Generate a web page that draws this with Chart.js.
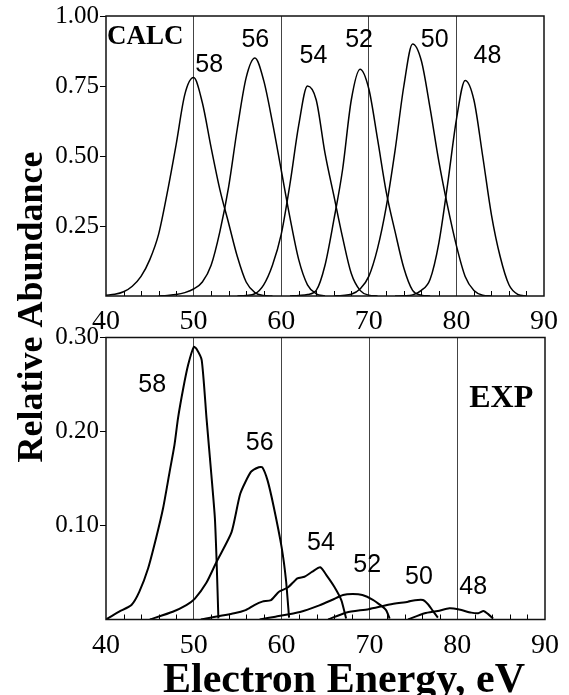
<!DOCTYPE html>
<html><head><meta charset="utf-8">
<script src="https://cdn.jsdelivr.net/npm/chart.js"></script>
<style>
html,body{margin:0;padding:0;background:#fff;}
#wrap{position:relative;width:569px;height:695px;overflow:hidden;}
canvas{position:absolute;left:0;top:0;}
</style></head><body>
<div id="wrap">
<canvas id="topChart" width="569" height="695"></canvas>
<canvas id="botChart" width="569" height="695"></canvas>
</div>
<script>
// ---------- DATA ----------
// CALC panel: energies (eV) and relative abundance for each cluster size
const calcEnergy = [40,41,42,43,44,45,46,47,48,49,50,51,52,53,54,55,56,57,58,59,60,61,62,63,64,65,66,67,68,69,70,71,72,73,74,75,76,77,78,79,80,81,82,83,84,85,86,87,88];
const calc58 = [0.003,0.006,0.015,0.035,0.07,0.13,0.22,0.37,0.54,0.72,0.78,0.69,0.53,0.38,0.26,0.14,0.05,0.012,0.002,0,
  null,null,null,null,null,null,null,null,null,null,null,null,null,null,null,null,null,null,null,null,null,null,null,null,null,null,null,null,null];
const calc56 = [null,null,null,null,null,null,
  0,0.002,0.005,0.012,0.025,0.05,0.11,0.23,0.39,0.60,0.78,0.85,0.77,0.62,0.45,0.28,0.13,0.04,0.008,0,
  null,null,null,null,null,null,null,null,null,null,null,null,null,null,null,null,null,null,null,null,null,null,null];
const calc54 = [null,null,null,null,null,null,null,null,null,null,null,null,null,null,null,
  0,0.002,0.008,0.04,0.11,0.22,0.40,0.61,0.75,0.70,0.51,0.36,0.21,0.08,0.02,0.003,0,
  null,null,null,null,null,null,null,null,null,null,null,null,null,null,null,null,null];
const calc52 = [null,null,null,null,null,null,null,null,null,null,null,null,null,null,null,null,null,null,null,null,null,
  0,0.002,0.005,0.02,0.11,0.27,0.45,0.70,0.81,0.74,0.56,0.37,0.23,0.10,0.02,0.003,0,
  null,null,null,null,null,null,null,null,null,null,null];
const calc50 = [null,null,null,null,null,null,null,null,null,null,null,null,null,null,null,null,null,null,null,null,null,null,null,null,null,null,
  0,0.002,0.006,0.025,0.07,0.17,0.32,0.52,0.75,0.90,0.84,0.67,0.48,0.32,0.18,0.07,0.02,0.003,0,
  null,null,null,null];
const calc48 = [null,null,null,null,null,null,null,null,null,null,null,null,null,null,null,null,null,null,null,null,null,null,null,null,null,null,null,null,null,null,null,null,null,
  0,0.001,0.004,0.02,0.06,0.19,0.40,0.63,0.77,0.70,0.50,0.29,0.14,0.04,0.006,0];

// EXP panel: measured curves (energy, abundance)
const exp58E = [40.0,40.2,41.5,42.9,43.8,44.8,45.7,46.5,47.25,47.8,48.2,48.8,49.35,50.0,50.3,50.9,51.45,52.0,52.4,52.6,52.8];
const exp58Y = [0.000,0.0012,0.0083,0.0154,0.0296,0.0545,0.0864,0.1183,0.1573,0.1857,0.214,0.246,0.2707,0.290,0.288,0.276,0.214,0.154,0.108,0.0615,0.0012];
const exp56E = [45.0,47.6,49.15,50.1,51.45,52.6,54.3,55.3,56.5,57.4,57.8,58.4,59.1,60.0,60.5,60.85];
const exp56Y = [0.000,0.0083,0.0154,0.022,0.0393,0.0615,0.093,0.134,0.157,0.162,0.162,0.148,0.12,0.077,0.042,0.002];
const exp54E = [50.8,54.6,55.9,56.9,57.8,58.8,59.7,60.7,61.8,62.6,63.5,64.4,65.1,66.0,66.8,67.35];
const exp54Y = [0.000,0.0066,0.010,0.0154,0.019,0.0207,0.0296,0.034,0.0438,0.0455,0.0509,0.0555,0.0473,0.0349,0.0207,0.001];
const exp52E = [57.5,59.3,62.1,64.3,65.8,67.0,68.1,69.2,70.4,71.3,71.9,72.3];
const exp52Y = [0.000,0.003,0.008,0.015,0.021,0.026,0.027,0.026,0.021,0.015,0.010,0.001];
const exp50E = [65.3,67.4,69.9,72.3,74.4,75.2,76.1,76.7,77.2,77.8];
const exp50Y = [0.000,0.0075,0.011,0.016,0.019,0.0205,0.0207,0.016,0.0095,0.002];
const exp48E = [74.4,76.3,77.8,79.1,80.1,81.6,82.4,83.0,83.5,84.1];
const exp48Y = [0.000,0.0066,0.009,0.012,0.011,0.0073,0.0066,0.009,0.006,0.001];

const xTickValues = [40,50,60,70,80,90];
const calcYTicks = [0.25,0.50,0.75,1.00];
const expYTicks = [0.10,0.20,0.30];
const seriesNames = ['58','56','54','52','50','48'];

// label anchors (data coordinates)
const calcLabels = [
  {t:'58', x:51.78, y:0.801}, {t:'56', x:57.05, y:0.890}, {t:'54', x:63.68, y:0.833},
  {t:'52', x:68.89, y:0.890}, {t:'50', x:77.53, y:0.890}, {t:'48', x:83.54, y:0.833},
  {t:'CALC', x:40.12, y:0.900, big:true, align:'left'}
];
const expLabels = [
  {t:'58', x:45.26, y:0.2415}, {t:'56', x:57.5, y:0.1803}, {t:'54', x:64.49, y:0.0739},
  {t:'52', x:69.75, y:0.0505}, {t:'50', x:75.64, y:0.0378}, {t:'48', x:81.82, y:0.0271},
  {t:'EXP', x:85.02, y:0.226, big:true, bigSize:32, align:'center'}
];

// ---------- HELPERS ----------
function pts(xs, ys){ const o=[]; for(let i=0;i<xs.length;i++){ if(ys[i]!==null) o.push({x:xs[i],y:ys[i]}); } return o; }
const SERIF = '"Liberation Serif","Times New Roman",Times,serif';
const SANS = '"Liberation Sans",Arial,Helvetica,sans-serif';

const framePlugin = {
  id:'frame',
  beforeDatasetsDraw(chart, args, opts){
    const {ctx, chartArea:a, scales:{x}} = chart;
    ctx.save();
    ctx.strokeStyle='#000'; ctx.lineWidth=1;
    ctx.beginPath();
    for(let v=42; v<90; v+=2){
      if(v%10===0) continue;
      const px = Math.round(x.getPixelForValue(v))+0.5;
      ctx.moveTo(px, a.bottom); ctx.lineTo(px, a.bottom-5);
    }
    ctx.stroke();
    ctx.restore();
  },
  afterDraw(chart, args, opts){
    const {ctx, chartArea:a, scales:{x,y}} = chart;
    ctx.save();
    ctx.strokeStyle='#111'; ctx.lineWidth=1.5;
    ctx.strokeRect(a.left, a.top, a.right-a.left, a.bottom-a.top);
    ctx.fillStyle='#000';
    ctx.textBaseline='alphabetic';
    for(const l of opts.labels){
      if(l.big){ ctx.font = 'bold '+(l.bigSize||27)+'px '+SERIF; }
      else { ctx.font = '25px '+SANS; }
      ctx.textAlign = l.align || 'center';
      ctx.fillText(l.t, x.getPixelForValue(l.x), y.getPixelForValue(l.y));
    }
    if(opts.yTitle){
      ctx.save();
      ctx.translate(42, 307);
      ctx.rotate(-Math.PI/2);
      ctx.font = 'bold 36px '+SERIF;
      ctx.textAlign='center';
      ctx.fillText(opts.yTitle, 0, 0);
      ctx.restore();
    }
    if(opts.xTitle){
      ctx.font = 'bold 42px '+SERIF;
      ctx.textAlign='center';
      ctx.fillText(opts.xTitle, 344, 692);
    }
    ctx.restore();
  }
};

function makeChart(id, datasets, ymax, padding, yTickList, labels, extra){
  return new Chart(document.getElementById(id), {
    type:'scatter',
    data:{datasets},
    options:{
      responsive:false, animation:false, devicePixelRatio:1,
      layout:{padding},
      plugins:{legend:{display:false}, tooltip:{enabled:false},
        frame:Object.assign({labels}, extra)},
      scales:{
        x:{type:'linear', min:40, max:90,
          afterFit:s=>{s.height=40;},
          afterBuildTicks:s=>{s.ticks = xTickValues.map(v=>({value:v}));},
          ticks:{color:'#000', padding:9, font:{family:SERIF, size:28}, maxRotation:0, autoSkip:false, callback:v=>String(v)},
          grid:{drawTicks:false, lineWidth:1, color:c=>(c.tick && (c.tick.value===40||c.tick.value===90))?'rgba(0,0,0,0)':'#444'},
          border:{display:false}},
        y:{type:'linear', min:0, max:ymax,
          afterFit:s=>{s.width=106;},
          afterBuildTicks:s=>{s.ticks = yTickList.map(v=>({value:v}));},
          ticks:{color:'#000', padding:1, font:{family:SERIF, size:25}, callback:v=>v.toFixed(2)},
          grid:{drawOnChartArea:false, drawTicks:true, tickLength:6, color:'#000', lineWidth:1},
          border:{display:false}}
      }
    },
    plugins:[framePlugin]
  });
}

const calcSeries = [calc58, calc56, calc54, calc52, calc50, calc48];
const topSets = calcSeries.map((s,i)=>({label:seriesNames[i], data:pts(calcEnergy, s), showLine:true,
  borderColor:'#000', borderWidth:1.5, pointRadius:0, cubicInterpolationMode:'monotone', fill:false}));

const expE = [exp58E, exp56E, exp54E, exp52E, exp50E, exp48E];
const expY = [exp58Y, exp56Y, exp54Y, exp52Y, exp50Y, exp48Y];
const botSets = expE.map((e,i)=>({label:seriesNames[i], data:pts(e, expY[i]), showLine:true,
  borderColor:'#000', borderWidth:2, pointRadius:0, tension:0.2, fill:false}));

makeChart('topChart', topSets, 1.0, {left:0, top:14, right:25, bottom:359}, calcYTicks, calcLabels, {yTitle:'Relative Abundance'});
makeChart('botChart', botSets, 0.30, {left:0, top:337.5, right:24, bottom:35.5}, expYTicks, expLabels, {xTitle:'Electron Energy, eV'});
</script>
</body></html>
